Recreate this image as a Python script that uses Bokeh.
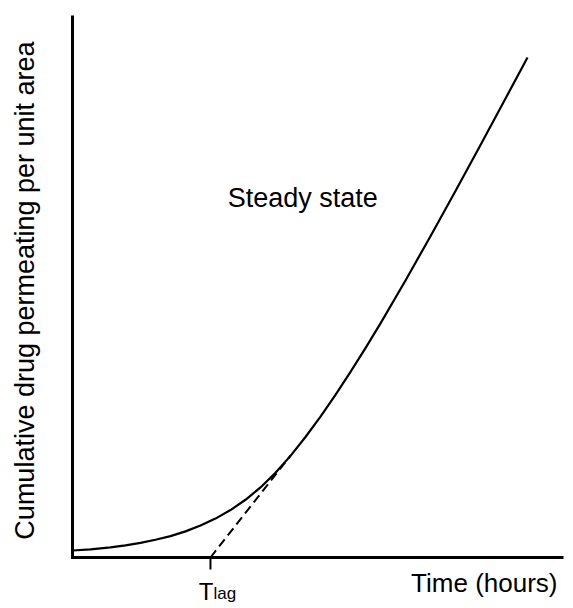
import math
from bokeh.plotting import figure
from bokeh.models import Range1d
from bokeh.core.properties import value
from bokeh.embed import file_html
from bokeh.resources import INLINE

# Cumulative amount permeated vs time, arbitrary units
time_vals = [0.000, 0.367, 0.774, 1.079, 1.385, 1.690, 1.996, 2.301, 2.607, 2.912,
             3.218, 3.523, 3.829, 4.134, 4.440, 4.745, 5.051, 5.356, 5.662, 5.967,
             6.273, 6.782, 7.291, 7.800, 8.310, 8.819, 9.267]
amount_vals = [0.129, 0.151, 0.188, 0.225, 0.271, 0.327, 0.395, 0.482, 0.589, 0.718,
               0.875, 1.065, 1.293, 1.563, 1.875, 2.223, 2.600, 3.000, 3.423, 3.862,
               4.319, 5.111, 5.928, 6.762, 7.611, 8.469, 9.227]

# Extrapolated steady-state line (dashed) back to the lag time
t_lag = 2.81
tangent_x = [t_lag, 4.44]
tangent_y = [0.0, 1.88]

# Axis extents (data units)
x_max = 10.0
y_max = 10.0

y_label = "Cumulative drug permeating per unit area"
x_label = "Time (hours)"
region_label = "Steady state"
lag_main = "T"
lag_sub = "lag"

FONT = value("Liberation Sans")

W, H = 565, 608
px_x = 49.1   # pixels per x unit
px_y = 54.2   # pixels per y unit
ox, oy = 72, 557  # origin location in canvas pixels (from top-left)

p = figure(width=W, height=H, output_backend="svg", toolbar_location=None,
           x_range=Range1d(-ox / px_x, (W - ox) / px_x),
           y_range=Range1d(-(H - oy) / px_y, oy / px_y),
           min_border=0)
p.outline_line_color = None
p.grid.visible = False
p.axis.visible = False

# axes (L-shaped), drawn in data space
p.line([0, 0, x_max], [y_max, 0, 0], line_color="black", line_width=3, line_join="miter")
# tick at the lag time
p.segment(x0=[t_lag], y0=[0], x1=[t_lag], y1=[-12 / px_y], line_color="black", line_width=2)

# data
p.line(time_vals, amount_vals, line_color="black", line_width=2.2, line_join="round")
p.line(tangent_x, tangent_y, line_color="black", line_width=2, line_dash="9 5")

# texts
p.text(x=[3.16], y=[(oy - 197) / px_y], text=[region_label], text_font=FONT,
       text_font_size="27px", text_color="black", text_baseline="alphabetic")
p.text(x=[(557 - ox) / px_x], y=[(oy - 582) / px_y], text=[x_label], text_font=FONT,
       text_font_size="26px", text_color="black", text_baseline="alphabetic", text_align="right")
p.text(x=[t_lag], y=[(oy - 591) / px_y], x_offset=3, text=[lag_main], text_font=FONT,
       text_font_size="24px", text_color="black", text_baseline="alphabetic", text_align="right")
p.text(x=[t_lag], y=[(oy - 593) / px_y], x_offset=3, text=[lag_sub], text_font=FONT,
       text_font_size="17px", text_color="black", text_baseline="alphabetic", text_align="left")
p.text(x=[(24 - ox) / px_x], y=[(oy - 290) / px_y], text=[y_label], angle=math.pi / 2,
       text_font=FONT, text_font_size="27px", text_color="black",
       text_baseline="alphabetic", text_align="center")

open("out.html", "w").write(file_html(p, INLINE))
